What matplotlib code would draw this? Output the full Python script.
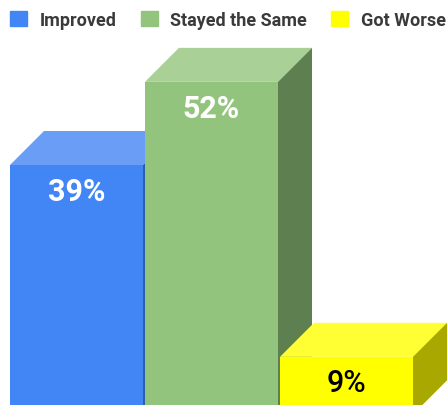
import matplotlib
matplotlib.use('Agg')
import matplotlib.pyplot as plt
from matplotlib.patches import Patch, Polygon, Rectangle

categories = ['Improved', 'Stayed the Same', 'Got Worse']
values = [39, 52, 9]
front_colors = ['#4285F4', '#93C47D', '#FFFF00']
top_colors = ['#699DF6', '#A9D097', '#FFFF33']
side_colors = ['#2E5DAA', '#5E7F50', '#A8A800']
label_colors = ['white', 'white', 'black']

plt.rcParams['font.family'] = ['Roboto', 'DejaVu Sans']

W, H = 447, 406
PX_PER_SLOT = 135
PX_PER_PCT = 6.395
BASE_Y = 415.4

fig = plt.figure(figsize=(W / 100, H / 100), dpi=100)
ax = fig.add_axes([0, 0, 1, 1])
ax.set_xlim(-10 / PX_PER_SLOT, (W - 10) / PX_PER_SLOT)
ax.set_ylim((BASE_Y - H) / PX_PER_PCT, BASE_Y / PX_PER_PCT)
ax.axis('off')

bar_w = 133 / PX_PER_SLOT
dx = 34 / PX_PER_SLOT
dy = 34 / PX_PER_PCT

for i, v in enumerate(values):
    # front, top and side faces of the 3d bar
    ax.add_patch(Polygon([(i, v), (i + dx, v + dy), (i + bar_w + dx, v + dy), (i + bar_w, v)],
                         facecolor=top_colors[i], edgecolor='none'))
    ax.add_patch(Polygon([(i + bar_w, 0), (i + bar_w + dx, dy), (i + bar_w + dx, v + dy), (i + bar_w, v)],
                         facecolor=side_colors[i], edgecolor='none'))
    ax.add_patch(Rectangle((i, 0), bar_w, v, facecolor=front_colors[i], edgecolor='none'))
    ax.annotate(f'{v}%', (i + bar_w / 2, v), xytext=(0, -18.5), textcoords='offset points',
                ha='center', va='center', fontsize=22, fontweight='bold' if i < 2 else 'medium',
                color=label_colors[i])

handles = [Patch(facecolor=c, edgecolor=c, linewidth=1, joinstyle='round', label=n)
           for c, n in zip(front_colors, categories)]
leg = fig.legend(handles=handles, ncols=3, loc='upper left', bbox_to_anchor=(10 / W, 1 - 11.5 / H),
                 bbox_transform=fig.transFigure, frameon=False, borderaxespad=0, borderpad=0,
                 handlelength=0.95, handleheight=0.95, handletextpad=0.7, columnspacing=1.32,
                 prop={'family': 'Roboto', 'weight': 'bold', 'size': 13}, labelcolor='#3A3A3A')

fig.savefig('out.png', dpi=100)
